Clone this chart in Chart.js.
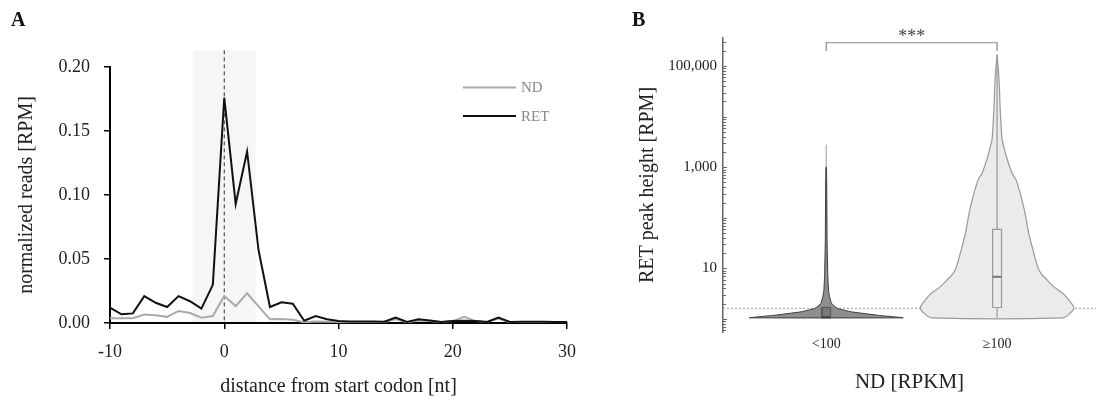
<!DOCTYPE html>
<html>
<head>
<meta charset="utf-8">
<script src="https://cdn.jsdelivr.net/npm/chart.js@4.4.0/dist/chart.umd.min.js"></script>
<style>
    body { margin: 0; width: 1096px; height: 403px; background: #fff; position: relative; overflow: hidden; font-family: "Liberation Serif", serif; }
    .panel { position: absolute; top: 0; height: 403px; }
    #boxA { left: 0; width: 600px; }
    #boxB { left: 620px; width: 476px; }
    .tag { position: absolute; top: 8px; font-weight: bold; font-size: 20px; color: #111; }
</style>
</head>
<body>
<div class="panel" id="boxA"><canvas id="chartA"></canvas></div>
<div class="panel" id="boxB"><canvas id="chartB"></canvas></div>
<div class="tag" style="left:11px">A</div>
<div class="tag" style="left:632px">B</div>
<script>
//DATOS DEL PANEL A (LECTURAS NORMALIZADAS POR POSICION)
var posiciones = [-10, -9, -8, -7, -6, -5, -4, -3, -2, -1, 0, 1, 2, 3, 4, 5, 6, 7, 8, 9, 10,
    11, 12, 13, 14, 15, 16, 17, 18, 19, 20, 21, 22, 23, 24, 25, 26, 27, 28, 29, 30];
var ndReads = [0.0037, 0.0037, 0.0037, 0.0066, 0.0060, 0.0048, 0.0094, 0.0078, 0.0042, 0.0055, 0.0210,
    0.0132, 0.0232, 0.0130, 0.0030, 0.0032, 0.0026, 0.0005, 0.0012, 0.0010, 0.0008,
    0.0008, 0.0008, 0.0008, 0.0008, 0.0030, 0.0005, 0.0020, 0.0015, 0.0008, 0.0015,
    0.0048, 0.0015, 0.0008, 0.0035, 0.0005, 0.0006, 0.0006, 0.0006, 0.0006, 0.0006];
var retReads = [0.0120, 0.0068, 0.0075, 0.0210, 0.0158, 0.0125, 0.0210, 0.0170, 0.0112, 0.0298, 0.1760,
    0.0930, 0.1340, 0.0570, 0.0125, 0.0162, 0.0150, 0.0018, 0.0055, 0.0030, 0.0015,
    0.0012, 0.0012, 0.0012, 0.0010, 0.0042, 0.0008, 0.0030, 0.0020, 0.0008, 0.0015,
    0.0018, 0.0015, 0.0008, 0.0042, 0.0008, 0.0010, 0.0010, 0.0010, 0.0008, 0.0008];
var zonaSombreada = [-2.75, 2.75];
var techoSombra = 0.213;
var ticksA = [-10, 0, 10, 20, 30];

//DATOS DEL PANEL B (VIOLINES EN ESCALA LOG)
var grupos = ["<100", "\u2265100"];
var nivelesV1 = [1000, 630, 32, 8, 3.7, 2.75, 2.04, 1.62, 1.38, 1.17, 1.05];
var anchosV1 = [0.003, 0.006, 0.012, 0.02, 0.03, 0.045, 0.068, 0.143, 0.325, 0.69, 1.0];
var nivelesV2 = [170000, 74000, 33000, 16000, 3550, 2570, 1630, 760, 562, 390, 310, 123, 57, 27,
    10.7, 7.95, 5.9, 4.3, 3.2, 2.34, 1.66, 1.29, 1.05];
var anchosV2 = [0, 0.02, 0.032, 0.039, 0.065, 0.087, 0.121, 0.195, 0.247, 0.28, 0.30, 0.364, 0.403, 0.455,
    0.529, 0.571, 0.649, 0.74, 0.857, 0.935, 1.0, 0.948, 0.857];
var minimos = [1.05, 1.05];
var cuartil1 = [1.05, 1.68];
var medianas = [1.08, 6.8];
var cuartil3 = [1.68, 59];
var maximos = [2800, 170000];
var umbral = 1.62;
var ticksB = [10, 1000, 100000];
var corchete = [200000, 290000];
var significancia = "***";

var fuente = "'Liberation Serif', serif";
var anchoMax = 0.45;
var anchoCaja = 0.026;

function puntos(xs, ys) {
    var lista = [];
    for (var i = 0; i < xs.length; i++) {
        lista.push({ x: xs[i], y: ys[i] });
    }
    return lista;
}

//CONTORNO CERRADO DEL VIOLIN
function contornoViolin(centro, niveles, anchos) {
    var lista = [];
    for (var i = 0; i < niveles.length; i++) {
        lista.push({ x: centro + anchos[i] * anchoMax, y: niveles[i] });
    }
    for (var j = niveles.length - 1; j >= 0; j--) {
        lista.push({ x: centro - anchos[j] * anchoMax, y: niveles[j] });
    }
    lista.push(lista[0]);
    return lista;
}

function contornoCaja(centro, bajo, alto) {
    return [
        { x: centro - anchoCaja, y: bajo }, { x: centro + anchoCaja, y: bajo },
        { x: centro + anchoCaja, y: alto }, { x: centro - anchoCaja, y: alto },
        { x: centro - anchoCaja, y: bajo }
    ];
}

//SOMBRA Y LINEA DEL CODON DE INICIO
var sombraPlugin = {
    id: 'sombra',
    beforeDatasetsDraw: function (chart) {
        var ctx = chart.ctx;
        var xs = chart.scales.x, ys = chart.scales.y;
        var x0 = xs.getPixelForValue(zonaSombreada[0]);
        var x1 = xs.getPixelForValue(zonaSombreada[1]);
        var arriba = ys.getPixelForValue(techoSombra);
        var abajo = chart.chartArea.bottom - 1;
        ctx.save();
        ctx.fillStyle = '#f6f6f6';
        ctx.fillRect(x0, arriba, x1 - x0, abajo - arriba);
        var xc = xs.getPixelForValue(0);
        ctx.strokeStyle = '#333';
        ctx.lineWidth = 1;
        ctx.setLineDash([4, 3]);
        ctx.beginPath();
        ctx.moveTo(xc, arriba);
        ctx.lineTo(xc, abajo);
        ctx.stroke();
        ctx.restore();
    },
    afterDraw: function (chart) {
        //LEYENDA
        var ctx = chart.ctx;
        var filas = [87.5, 116];
        ctx.save();
        ctx.font = "15px " + fuente;
        ctx.textBaseline = 'middle';
        for (var i = 0; i < chart.data.datasets.length; i++) {
            var ds = chart.data.datasets[i];
            ctx.strokeStyle = ds.borderColor;
            ctx.lineWidth = 2;
            ctx.beginPath();
            ctx.moveTo(463, filas[i]);
            ctx.lineTo(516, filas[i]);
            ctx.stroke();
            ctx.fillStyle = '#888';
            ctx.fillText(ds.label, 521, filas[i] + 1);
        }
        ctx.restore();
    }
};

new Chart(document.getElementById("chartA").getContext("2d"), {
    type: 'line',
    data: {
        datasets: [
            { label: 'ND', data: puntos(posiciones, ndReads), borderColor: '#aaaaaa', borderWidth: 2, pointRadius: 0, order: 1 },
            { label: 'RET', data: puntos(posiciones, retReads), borderColor: '#111111', borderWidth: 2, pointRadius: 0, order: 0 }
        ]
    },
    options: {
        responsive: true,
        maintainAspectRatio: false,
        animation: false,
        layout: { padding: { top: 67, right: 33, left: 0, bottom: 0 } },
        plugins: { legend: { display: false }, tooltip: { enabled: false } },
        scales: {
            x: {
                type: 'linear', min: -10, max: 30,
                afterBuildTicks: function (escala) {
                    escala.ticks = ticksA.map(function (v) { return { value: v }; });
                },
                afterFit: function (escala) { escala.height = 80; },
                grid: { drawOnChartArea: false, drawTicks: true, tickLength: 6, color: '#000', lineWidth: 1.5 },
                border: { color: '#000', width: 2 },
                ticks: { color: '#222', padding: 12, font: { family: fuente, size: 18 } },
                title: { display: true, text: 'distance from start codon [nt]', color: '#222', padding: { top: 0, bottom: 4 }, font: { family: fuente, size: 20 } }
            },
            y: {
                min: 0, max: 0.2,
                afterFit: function (escala) { escala.width = 110; },
                grid: { drawOnChartArea: false, drawTicks: true, tickLength: 6, color: '#000', lineWidth: 1.5 },
                border: { color: '#000', width: 2 },
                ticks: {
                    stepSize: 0.05, color: '#222', padding: 14, font: { family: fuente, size: 18 },
                    callback: function (v) { return v.toFixed(2); }
                },
                title: { display: true, text: 'normalized reads [RPM]', color: '#222', padding: { top: 15, bottom: 0 }, font: { family: fuente, size: 20 } }
            }
        }
    },
    plugins: [sombraPlugin]
});

//UMBRAL, MARCAS INTERNAS Y CORCHETE DE SIGNIFICANCIA
var violinPlugin = {
    id: 'violinExtras',
    beforeDatasetsDraw: function (chart) {
        var ctx = chart.ctx, ys = chart.scales.y, area = chart.chartArea;
        var yu = ys.getPixelForValue(umbral);
        ctx.save();
        ctx.strokeStyle = '#999';
        ctx.lineWidth = 1;
        ctx.setLineDash([2, 2]);
        ctx.beginPath();
        ctx.moveTo(area.left, yu);
        ctx.lineTo(area.right, yu);
        ctx.stroke();
        ctx.restore();
    },
    afterDraw: function (chart) {
        var ctx = chart.ctx, xs = chart.scales.x, ys = chart.scales.y, area = chart.chartArea;
        ctx.save();
        ctx.strokeStyle = '#666';
        ctx.lineWidth = 1;
        ys.ticks.forEach(function (t) {
            var py = Math.round(ys.getPixelForValue(t.value)) + 0.5;
            var l = Math.log10(t.value);
            var largo = Math.abs(l - Math.round(l)) < 1e-9 ? 4 : 3;
            ctx.beginPath();
            ctx.moveTo(area.left, py);
            ctx.lineTo(area.left + largo, py);
            ctx.stroke();
        });
        var xa = xs.getPixelForValue(0), xb = xs.getPixelForValue(1);
        var pie = ys.getPixelForValue(corchete[0]), tope = ys.getPixelForValue(corchete[1]);
        ctx.strokeStyle = '#888';
        ctx.lineWidth = 1.2;
        ctx.beginPath();
        ctx.moveTo(xa, pie);
        ctx.lineTo(xa, tope);
        ctx.lineTo(xb, tope);
        ctx.lineTo(xb, pie);
        ctx.stroke();
        ctx.fillStyle = '#444';
        ctx.font = "18px " + fuente;
        ctx.textAlign = 'center';
        ctx.textBaseline = 'middle';
        ctx.fillText(significancia, (xa + xb) / 2, tope - 5);
        ctx.restore();
    }
};

var datasetsB = [
    { data: [{ x: 0 - anchoCaja, y: medianas[0] }, { x: 0 + anchoCaja, y: medianas[0] }], borderColor: '#444', borderWidth: 2, order: 0 },
    { data: [{ x: 1 - anchoCaja, y: medianas[1] }, { x: 1 + anchoCaja, y: medianas[1] }], borderColor: '#777', borderWidth: 2, order: 0 },
    { data: contornoCaja(0, cuartil1[0], cuartil3[0]), borderColor: '#555', backgroundColor: '#7a7a7a', borderWidth: 1, fill: 'shape', order: 1 },
    { data: contornoCaja(1, cuartil1[1], cuartil3[1]), borderColor: '#999', backgroundColor: '#ebebeb', borderWidth: 1.2, fill: 'shape', order: 1 },
    { data: [{ x: 1, y: minimos[1] }, { x: 1, y: maximos[1] }], borderColor: '#999', borderWidth: 1.2, order: 2 },
    { data: contornoViolin(0, nivelesV1, anchosV1), borderColor: '#3a3a3a', backgroundColor: '#8e8e8e', borderWidth: 1, fill: 'shape', tension: 0.1, order: 3 },
    { data: contornoViolin(1, nivelesV2, anchosV2), borderColor: '#999', backgroundColor: '#ebebeb', borderWidth: 1.2, fill: 'shape', tension: 0.3, order: 3 },
    { data: [{ x: 0, y: minimos[0] }, { x: 0, y: maximos[0] }], borderColor: '#999', borderWidth: 1, order: 4 }
];

new Chart(document.getElementById("chartB").getContext("2d"), {
    type: 'line',
    data: { datasets: datasetsB },
    options: {
        responsive: true,
        maintainAspectRatio: false,
        animation: false,
        elements: { point: { radius: 0 } },
        layout: { padding: { top: 38, right: 0, left: 0, bottom: 0 } },
        plugins: { legend: { display: false }, tooltip: { enabled: false } },
        scales: {
            x: {
                type: 'linear', min: -0.604, max: 1.579,
                afterBuildTicks: function (escala) {
                    escala.ticks = [{ value: 0 }, { value: 1 }];
                },
                afterFit: function (escala) { escala.height = 71; },
                grid: { display: false, drawTicks: false },
                border: { display: false },
                ticks: {
                    color: '#222', padding: 4, font: { family: fuente, size: 14 },
                    callback: function (v) { return grupos[v]; }
                },
                title: { display: true, text: 'ND [RPKM]', color: '#222', padding: { top: 0, bottom: 8 }, font: { family: fuente, size: 21 } }
            },
            y: {
                type: 'logarithmic', min: 0.55, max: 360000,
                afterBuildTicks: function (escala) {
                    var lista = [];
                    for (var e = -1; e <= 5; e++) {
                        for (var m = 1; m <= 9; m++) {
                            var v = m * Math.pow(10, e);
                            if (v >= escala.min && v <= escala.max) lista.push({ value: v });
                        }
                    }
                    escala.ticks = lista;
                },
                afterFit: function (escala) { escala.width = 103; },
                grid: { drawOnChartArea: false, drawTicks: false },
                border: { color: '#666', width: 1.5 },
                ticks: {
                    autoSkip: false, color: '#222', padding: 6, font: { family: fuente, size: 15 },
                    callback: function (v) { return ticksB.indexOf(v) >= 0 ? v.toLocaleString('en-US') : ''; }
                },
                title: { display: true, text: 'RET peak height [RPM]', color: '#222', padding: { top: 16, bottom: 0 }, font: { family: fuente, size: 20 } }
            }
        }
    },
    plugins: [violinPlugin]
});
</script>
</body>
</html>
